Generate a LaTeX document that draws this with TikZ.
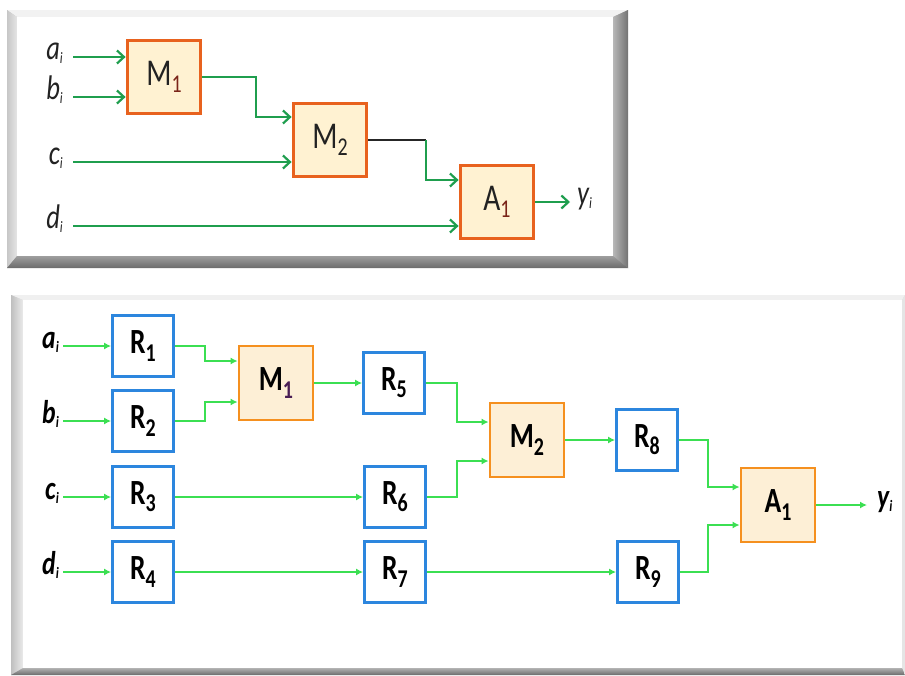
\documentclass[tikz,border=0pt]{standalone}
\usepackage{fontspec}
\setmainfont{Carlito}
\usetikzlibrary{arrows.meta}
\definecolor{topor}{HTML}{E8621E}
\definecolor{topfill}{HTML}{FFF2D2}
\definecolor{tgreen}{HTML}{1F9E4E}
\definecolor{bgreen}{HTML}{3BDF52}
\definecolor{blu}{HTML}{2C86DE}
\definecolor{orb}{HTML}{F5901F}
\definecolor{opfill}{HTML}{FDEFD6}
\definecolor{subred}{HTML}{7A2418}
\definecolor{subpur}{HTML}{4A1E55}
\definecolor{txt}{HTML}{222222}
\newcommand{\sbx}[1]{\raisebox{-0.2em}{\fontsize{21}{21}\selectfont #1}}
\newcommand{\lsub}[1]{\raisebox{-0.1em}{\fontsize{13}{13}\selectfont #1}}
\newcommand{\tall}[1]{\scalebox{0.95}[1.22]{#1}}
\tikzset{
  topbox/.style={draw=topor, fill=topfill, line width=3.8pt, minimum size=73pt, inner sep=0pt,
    font=\fontsize{31}{31}\selectfont, text=txt},
  regbox/.style={draw=blu, fill=white, line width=2.8pt, minimum size=61pt, inner sep=0pt,
    font=\fontsize{29}{29}\selectfont\bfseries, text=black},
  opbox/.style={draw=orb, fill=opfill, line width=2.8pt, minimum size=74pt, inner sep=0pt,
    font=\fontsize{29}{29}\selectfont\bfseries, text=black},
  tlabel/.style={inner sep=0pt, text height=1.22ex, text depth=0pt, font=\fontsize{28}{28}\selectfont\itshape, text=txt},
  blabel/.style={inner sep=0pt, text height=1.22ex, text depth=0pt, font=\fontsize{27}{27}\selectfont\bfseries\itshape, text=black},
  tarr/.style={draw=tgreen, line width=2pt, -{Straight Barb[length=7pt,width=13pt,line width=2.2pt]}},
  tdark/.style={draw=black!85, line width=1.8pt},
  barr/.style={draw=bgreen, line width=2.3pt, -{Latex[length=7pt,width=7pt]}}
}
\begin{document}
\begin{tikzpicture}[x=1pt,y=-1pt]
\useasboundingbox (0,0) rectangle (905,675);
\fill[white] (0,0) rectangle (905,675);

% ---------- top frame ----------
\fill[gray!55] (7,10) rectangle (628,268);
\fill[black!5] (7,10) -- (628,10) -- (613,17) -- (17,17) -- cycle;
\shade[left color=black!22, right color=black!10] (7,10) -- (17,17) -- (17,256) -- (7,268) -- cycle;
\shade[left color=black!28, right color=black!55] (628,10) -- (628,268) -- (613,256) -- (613,17) -- cycle;
\shade[top color=black!38, bottom color=black!58] (7,268) -- (628,268) -- (613,256) -- (17,256) -- cycle;
\fill[white] (17,17) rectangle (613,256);

% ---------- bottom frame ----------
\fill[gray!30] (11,295) rectangle (905,675);
\fill[black!6] (11,295) -- (905,295) -- (902,300) -- (23,300) -- cycle;
\shade[left color=black!25, right color=black!8] (11,295) -- (23,300) -- (23,668) -- (11,675) -- cycle;
\fill[black!10] (905,295) -- (905,675) -- (902,668) -- (902,300) -- cycle;
\shade[top color=black!30, bottom color=black!58] (11,675) -- (905,675) -- (902,668) -- (23,668) -- cycle;
\fill[white] (23,300) rectangle (902,668);

% ---------- top diagram ----------
\node[topbox] (tM1) at (164,77) {\tall{M\sbx{\color{subred}1}}};
\node[topbox] (tM2) at (330,140) {\tall{M\sbx{2}}};
\node[topbox] (tA1) at (497,202) {\tall{A\sbx{\color{subred}1}}};

\node[tlabel, anchor=east] (ta) at (63,57) {\tall{a\lsub{i}}};
\node[tlabel, anchor=east] (tb) at (63,97) {\tall{b\lsub{i}}};
\node[tlabel, anchor=east] (tc) at (63,162) {\tall{c\lsub{i}}};
\node[tlabel, anchor=east] (td) at (63,226) {\tall{d\lsub{i}}};
\node[tlabel, anchor=west] (ty) at (577,202) {\tall{y\lsub{i}}};

\draw[tarr] ([xshift=10pt]ta.east) -- (ta.east -| tM1.west);
\draw[tarr] ([xshift=10pt]tb.east) -- (tb.east -| tM1.west);
\draw[tarr] ([xshift=10pt]tc.east) -- (tc.east -| tM2.west);
\draw[tarr] ([xshift=10pt]td.east) -- (td.east -| tA1.west);
\draw[tarr] (tM1.east) -- ++(54,0) |- ([yshift=23pt]tM2.west);
\coordinate (tk2) at (426,140);
\draw[tdark] (tM2.east) -- (tk2);
\draw[tarr] (tk2) |- ([yshift=22pt]tA1.west);
\draw[tarr] (tA1.east) -- ([xshift=-7pt]ty.west);

% ---------- bottom diagram ----------
\node[regbox] (R1) at (143,346) {\tall{R\sbx{1}}};
\node[regbox] (R2) at (143,421) {\tall{R\sbx{2}}};
\node[regbox] (R3) at (143,497) {\tall{R\sbx{3}}};
\node[regbox] (R4) at (143,572) {\tall{R\sbx{4}}};
\node[opbox] (M1) at (276,383) {\tall{M\sbx{\color{subpur}1}}};
\node[regbox] (R5) at (394,383) {\tall{R\sbx{5}}};
\node[regbox] (R6) at (395,497) {\tall{R\sbx{6}}};
\node[regbox] (R7) at (395,572) {\tall{R\sbx{7}}};
\node[opbox] (M2) at (527,440) {\tall{M\sbx{2}}};
\node[regbox] (R8) at (647,440) {\tall{R\sbx{8}}};
\node[regbox] (R9) at (648,572) {\tall{R\sbx{9}}};
\node[opbox] (A1) at (778,505) {\tall{A\sbx{1}}};

\node[blabel, anchor=east] (ba) at (59,346) {\tall{a\lsub{i}}};
\node[blabel, anchor=east] (bb) at (59,421) {\tall{b\lsub{i}}};
\node[blabel, anchor=east] (bc) at (59,497) {\tall{c\lsub{i}}};
\node[blabel, anchor=east] (bd) at (59,572) {\tall{d\lsub{i}}};
\node[blabel, anchor=west] (by) at (877,505) {\tall{y\lsub{i}}};

\draw[barr] ([xshift=4pt]ba.east) -- (R1.west);
\draw[barr] ([xshift=4pt]bb.east) -- (R2.west);
\draw[barr] ([xshift=4pt]bc.east) -- (R3.west);
\draw[barr] ([xshift=4pt]bd.east) -- (R4.west);

\draw[barr] (R1.east) -- ++(30,0) |- ([yshift=22pt]M1.west);
\draw[barr] (R2.east) -- ++(30,0) |- ([yshift=-19pt]M1.west);
\draw[barr] (M1.east) -- (R5.west);
\draw[barr] (R3.east) -- (R6.west);
\draw[barr] (R4.east) -- (R7.west);
\draw[barr] (R5.east) -- ++(31,0) |- ([yshift=18pt]M2.west);
\draw[barr] (R6.east) -- ++(30,0) |- ([yshift=-21pt]M2.west);
\draw[barr] (M2.east) -- (R8.west);
\draw[barr] (R7.east) -- (R9.west);
\draw[barr] (R8.east) -- ++(29,0) |- ([yshift=18pt]A1.west);
\draw[barr] (R9.east) -- ++(28,0) |- ([yshift=-20pt]A1.west);
\draw[barr] (A1.east) -- ([xshift=-10pt]by.west);
\end{tikzpicture}
\end{document}
